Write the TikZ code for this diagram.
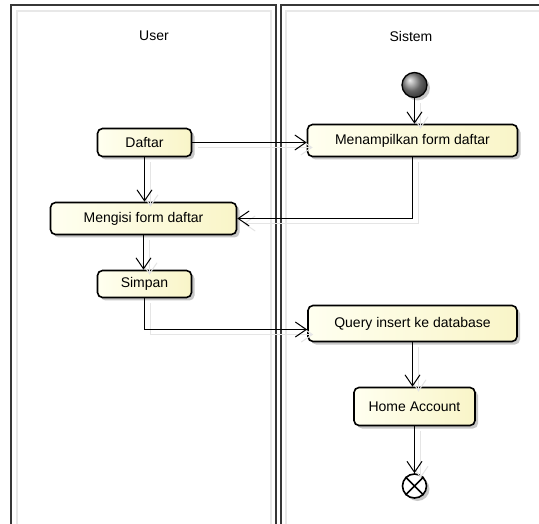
\documentclass[tikz,border=0pt]{standalone}
\usepackage{fontspec}
\setmainfont{Liberation Sans}
\usetikzlibrary{arrows.meta,shadows}

\definecolor{actfillA}{RGB}{255,255,240}
\definecolor{actfillB}{RGB}{249,245,200}
\definecolor{laneline}{RGB}{55,55,55}

\tikzset{
  activity/.style={draw=black, line width=1.6pt, rounded corners=5pt,
    left color=actfillA, right color=actfillB, inner sep=0pt,
    font=\fontsize{14}{16}\selectfont,
    drop shadow={shadow xshift=3pt, shadow yshift=-3pt, opacity=0.22, fill=black}},
  flow/.style={draw=black, line width=1pt,
    -{Straight Barb[length=11pt,width=15pt,line width=1pt]},
    preaction={draw=black!10, line width=1pt,
      transform canvas={shift={(6pt,-5pt)}}}},
  lane/.style={draw=laneline, line width=1.5pt},
  laneshade/.style={draw=black!9, line width=1.2pt},
  lanetitle/.style={font=\fontsize{14}{16}\selectfont},
  startnode/.style={circle, draw=black, line width=1.3pt, minimum size=25pt,
    inner sep=0pt, ball color=black!45,
    drop shadow={shadow xshift=3pt, shadow yshift=-3pt, opacity=0.22, fill=black}},
  endnode/.style={circle, draw=black, line width=1.6pt, minimum size=24pt,
    inner sep=0pt, fill=white,
    drop shadow={shadow xshift=3pt, shadow yshift=-3pt, opacity=0.22, fill=black}}
}

\begin{document}
\begin{tikzpicture}[x=1pt, y=-1pt]
  \useasboundingbox (0,0) rectangle (539,524);
  \fill[white] (0,0) rectangle (539,524);

  % swimlanes
  \draw[laneshade] (17,524) -- (17,11) -- (271,11) -- (271,524);
  \draw[laneshade] (286,524) -- (286,11) -- (539,11);
  \draw[lane] (11,524) -- (11,5) -- (276,5) -- (276,524);
  \draw[lane] (281,524) -- (281,5) -- (545,5);
  \node[lanetitle] (userlane) at (154,36) {User};
  \node[lanetitle] (sistemlane) at (411,36) {Sistem};

  % activities
  \node[startnode] (init) at (414.5,85) {};
  \node[activity, minimum width=210pt, minimum height=32pt] (tampil) at (412.5,140.5) {Menampilkan form daftar};
  \node[activity, minimum width=94pt, minimum height=28pt] (daftar) at (144.5,142.5) {Daftar};
  \node[activity, minimum width=186pt, minimum height=32pt] (isi) at (143.5,218.5) {Mengisi form daftar};
  \node[activity, minimum width=94pt, minimum height=27pt] (simpan) at (144.5,284) {Simpan};
  \node[activity, minimum width=209pt, minimum height=36pt] (query) at (412.5,323.5) {Query insert ke database};
  \node[activity, minimum width=121pt, minimum height=38pt] (home) at (414.5,406.5) {Home Account};
  \node[endnode] (final) at (414.5,486) {};
  \draw[line width=1.6pt] (final.north west) -- (final.south east)
                          (final.north east) -- (final.south west);

  % control flows
  \coordinate (qin) at ([yshift=-6pt]query.west);
  \draw[flow] (init.south) -- (init.south |- tampil.north);
  \draw[flow] (daftar.east) -- (daftar.east -| tampil.west);
  \draw[flow] (daftar.south) -- (daftar.south |- isi.north);
  \draw[flow] (tampil.south) |- (isi.east);
  \draw[flow] (isi.south) -- (isi.south |- simpan.north);
  \draw[flow] (simpan.south) |- (qin);
  \draw[flow] (query.south) -- (query.south |- home.north);
  \draw[flow] (home.south) -- (home.south |- final.north);
\end{tikzpicture}
\end{document}
